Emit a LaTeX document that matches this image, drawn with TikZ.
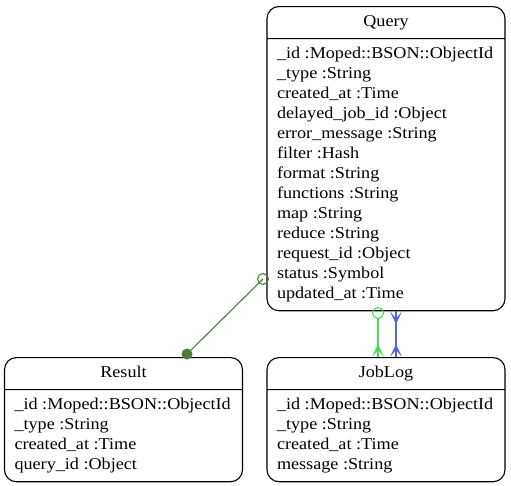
\documentclass[tikz,border=0pt]{standalone}
\usepackage{fontspec}
\setmainfont{Liberation Serif}[FakeStretch=1.1]
\usetikzlibrary{shapes.multipart,positioning}

\definecolor{relgreen}{HTML}{4A7D3C}
\definecolor{rellight}{HTML}{44DD55}
\definecolor{relblue}{HTML}{5566DD}

\newcommand{\entityfont}{\fontsize{16.5}{20}\selectfont}

\tikzset{
  entity/.style={rectangle split, rectangle split parts=2, draw, line width=1.1pt,
    rounded corners=12pt, minimum width=238pt, inner xsep=10pt, inner ysep=5.5pt,
    rectangle split part align={center,left}, font=\entityfont, anchor=north},
  rel/.style={line width=1.1pt},
  crow/.pic={\fill (-6,0) -- (0,-13) -- (6,0) -- (1,-6) -- (0.7,0) -- (-0.7,0) -- (-1,-6) -- cycle;}
}

\begin{document}
\begin{tikzpicture}[x=1pt,y=-1pt]
	\useasboundingbox (0,0) rectangle (511,485);

	\node[entity] (query) at (386,6) {\strut Query
	  \nodepart{second}\begin{tabular}{@{}l@{}}
	  \_id :Moped::BSON::ObjectId\\
	  \_type :String\\
	  created\_at :Time\\
	  delayed\_job\_id :Object\\
	  error\_message :String\\
	  filter :Hash\\
	  format :String\\
	  functions :String\\
	  map :String\\
	  reduce :String\\
	  request\_id :Object\\
	  status :Symbol\\
	  updated\_at :Time
	  \end{tabular}}; %query
	\node[entity] (result) at (123.5,357) {\strut Result
	  \nodepart{second}\begin{tabular}{@{}l@{}}
	  \_id :Moped::BSON::ObjectId\\
	  \_type :String\\
	  created\_at :Time\\
	  query\_id :Object
	  \end{tabular}}; %result
	\node[entity] (joblog) at (386,357) {\strut JobLog
	  \nodepart{second}\begin{tabular}{@{}l@{}}
	  \_id :Moped::BSON::ObjectId\\
	  \_type :String\\
	  created\_at :Time\\
	  message :String
	  \end{tabular}}; %joblog

	% query -- result
	\coordinate (qres) at (263,279);
	\coordinate (rq) at (187,354);
	\draw[rel, relgreen] (qres) -- (rq);
	\draw[rel, relgreen] (qres) circle (5.5);
	\fill[relgreen] (rq) circle (5.5);

	% query -- joblog (light)
	\coordinate (qjl) at (378,313);
	\draw[rel, rellight] (qjl) ++(0,5.5) -- (joblog.north -| qjl);
	\draw[rel, rellight] (qjl) circle (5.5);
	\pic[rellight] at (joblog.north -| qjl) {crow};

	% query -- joblog (blue)
	\coordinate (qjb) at (396,307);
	\draw[rel, relblue] (query.south -| qjb) -- (joblog.north -| qjb);
	\pic[relblue, yscale=-1] at (query.south -| qjb) {crow};
	\pic[relblue] at (joblog.north -| qjb) {crow};
\end{tikzpicture}
\end{document}
